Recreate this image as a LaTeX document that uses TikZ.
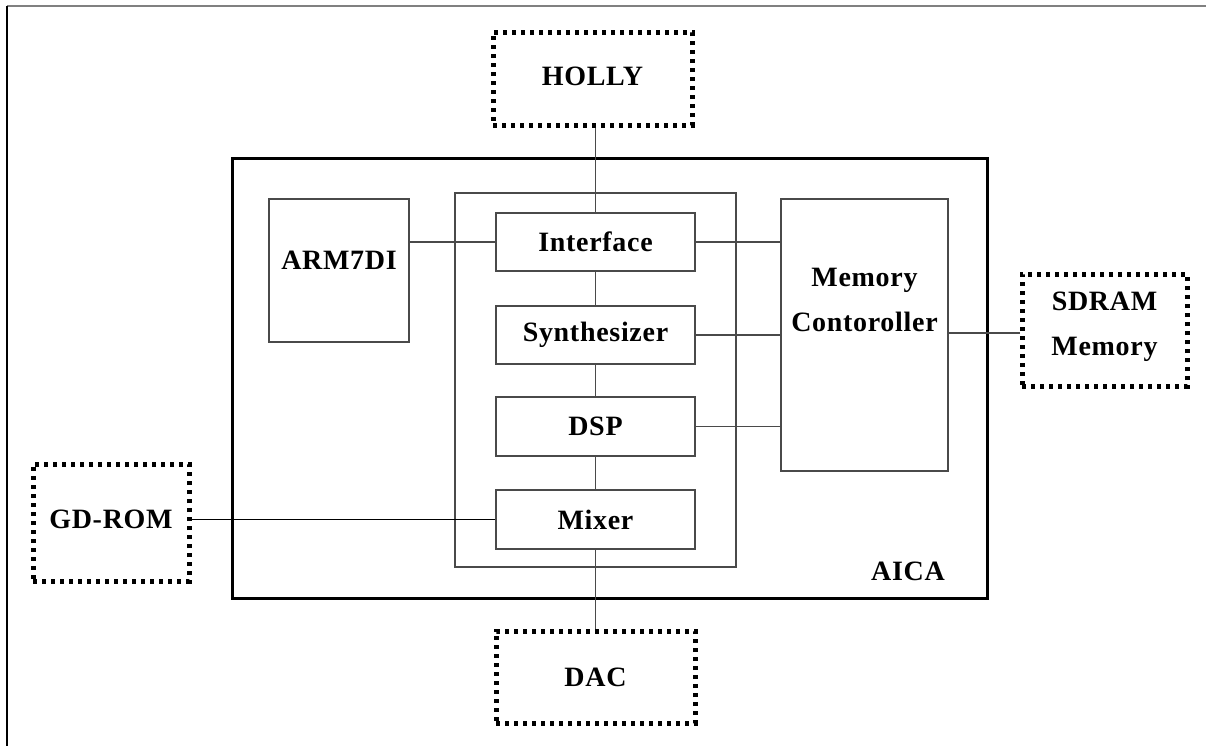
\documentclass[tikz,border=0pt]{standalone}
\usepackage{fontspec}
\setmainfont[LetterSpace=2.5]{Liberation Serif}
\usetikzlibrary{calc}
\definecolor{linegray}{HTML}{4A4A4A}
\tikzset{
  box/.style={draw=linegray, line width=0.6pt, inner sep=0pt},
  extbox/.style={draw=black, line width=2.5pt, dash pattern=on 2.2pt off 2.3pt, inner sep=0pt, align=center},
  wire/.style={draw=linegray, line width=0.6pt},
  lbl/.style={font=\fontsize{14}{22.5}\selectfont\bfseries, align=center, inner sep=0pt}
}
\begin{document}
\begin{tikzpicture}[x=0.5pt,y=-0.5pt]
\useasboundingbox (0,0) rectangle (1206,746);
% page frame
\coordinate (ftl) at (7,6);
\coordinate (ftr) at (1206,6);
\coordinate (fbl) at (7,746);
\draw[gray, line width=1pt] (ftl) -- (ftr);
\draw[black, line width=0.8pt] (ftl) -- (fbl);

% AICA outer and core
\node[draw=black, line width=1.5pt, minimum width=377.5pt, minimum height=220pt, inner sep=0pt] (aica) at (609.5,378) {};
\node[lbl] (aicalbl) at (908,571) {AICA};
\node[box, minimum width=140.5pt, minimum height=187pt] (core) at (595.5,380) {};

% inner blocks
\node[box, lbl, draw=linegray, line width=0.6pt, minimum width=99.5pt, minimum height=29pt] (iface) at (595.5,242) {Interface};
\node[box, lbl, draw=linegray, line width=0.6pt, minimum width=99.5pt, minimum height=29pt] (synth) at (595.5,335) {Synthesizer};
\node[box, lbl, draw=linegray, line width=0.6pt, minimum width=99.5pt, minimum height=29.5pt] (dsp) at (595.5,426.5) {DSP};
\node[box, lbl, draw=linegray, line width=0.6pt, minimum width=99.5pt, minimum height=29.5pt] (mixer) at (595.5,519.5) {Mixer};

\node[box, minimum width=70pt, minimum height=71.5pt] (arm) at (339,270.5) {};
\node[lbl] (armlbl) at (339,260) {ARM7DI};

\node[box, minimum width=83.5pt, minimum height=136pt] (mem) at (864.5,335) {};
\node[lbl] (memlbl) at (864.5,300) {Memory\\Contoroller};

% external blocks
\node[extbox, minimum width=99.5pt, minimum height=46.5pt] (holly) at (592.5,78.5) {};
\node[lbl] (hollylbl) at (592.5,76) {HOLLY};
\node[extbox, minimum width=82.5pt, minimum height=56pt] (sdram) at (1104.5,330) {};
\node[lbl] (sdramlbl) at (1104.5,327) {SDRAM\\Memory};
\node[extbox, minimum width=78pt, minimum height=58.5pt] (gdrom) at (111,522.5) {};
\node[lbl] (gdromlbl) at (111,519) {GD-ROM};
\node[extbox, minimum width=99.5pt, minimum height=46pt] (dac) at (595.5,677) {};
\node[lbl] (daclbl) at (595.5,677) {DAC};

% connectors
\draw[wire] (holly.south -| iface.north) -- (iface.north);
\draw[wire] (arm.east |- iface.west) -- (iface.west);
\draw[wire] (iface.east) -- (iface.east -| mem.west);
\draw[wire] (synth.east) -- (synth.east -| mem.west);
\draw[wire] (dsp.east) -- (dsp.east -| mem.west);
\draw[wire] ($(mem.east)+(0,-2)$) -- ($(mem.east -| sdram.west)+(0,-2)$);
\draw[wire] (iface.south) -- (synth.north);
\draw[wire] (synth.south) -- (dsp.north);
\draw[wire] (dsp.south) -- (mixer.north);
\draw[wire, draw=black] (gdrom.east |- mixer.west) -- (mixer.west);
\draw[wire] (mixer.south) -- (mixer.south |- dac.north);
\end{tikzpicture}
\end{document}
